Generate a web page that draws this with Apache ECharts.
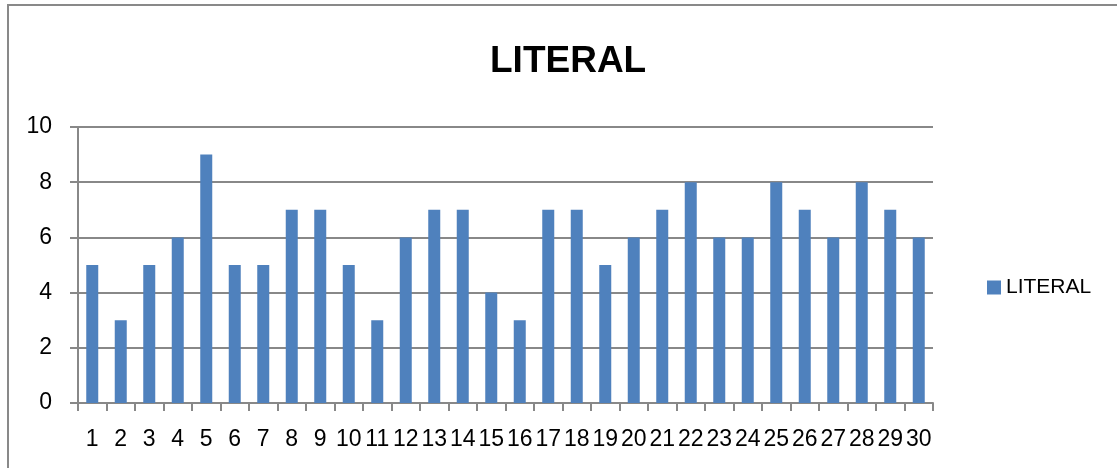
<!DOCTYPE html>
<html>
<head>
<meta charset="utf-8">
<script src="https://cdn.jsdelivr.net/npm/echarts@6/dist/echarts.min.js"></script>
<style>
html,body{margin:0;padding:0;background:#fff;overflow:hidden;}
#frame{position:absolute;left:7px;top:4px;width:1200px;height:600px;border:2px solid #898989;box-sizing:border-box;}
#chart{position:absolute;left:0;top:0;width:1117px;height:468px;}
</style>
</head>
<body>
<div id="frame"></div>
<div id="chart"></div>
<script>
const categories = ['1','2','3','4','5','6','7','8','9','10','11','12','13','14','15','16','17','18','19','20','21','22','23','24','25','26','27','28','29','30'];
const literalValues = [5,3,5,6,9,5,5,7,7,5,3,6,7,7,4,3,7,7,5,6,7,8,6,6,8,7,6,8,7,6];
const seriesName = 'LITERAL';
const yTicks = [0,2,4,6,8,10];

const chart = echarts.init(document.getElementById('chart'), null, {renderer:'canvas'});
const gridColor = '#888888';
chart.setOption({
  animation:false,
  backgroundColor:'transparent',
  title:{
    text:'LITERAL', left:485, top:38,
    textStyle:{fontFamily:'Liberation Sans', fontWeight:'bold', fontSize:37, color:'#000'}
  },
  legend:{
    show:true, left:982, top:272, itemWidth:14, itemHeight:14, itemGap:6,
    icon:'rect', data:[seriesName],
    textStyle:{fontFamily:'Liberation Sans', fontSize:21, color:'#000', padding:[0,0,0,0]}
  },
  grid:{left:78, right:184, top:127, bottom:65, containLabel:false},
  xAxis:{
    type:'category', data:categories, boundaryGap:true,
    axisLine:{show:true, lineStyle:{color:gridColor, width:2}},
    axisTick:{show:true, length:8, inside:false, alignWithLabel:false, lineStyle:{color:gridColor, width:2}},
    axisLabel:{interval:0, margin:25, fontFamily:'Liberation Sans', fontSize:23, color:'#000'},
    splitLine:{show:false}
  },
  yAxis:{
    type:'value', min:0, max:10, interval:2,
    axisLine:{show:true, lineStyle:{color:gridColor, width:2}},
    axisTick:{show:true, length:8, lineStyle:{color:gridColor, width:2}},
    axisLabel:{margin:26, fontFamily:'Liberation Sans', fontSize:23, color:'#000',
      formatter:function(v){return yTicks.indexOf(v)>=0 ? String(v) : '';}},
    splitLine:{show:true, lineStyle:{color:gridColor, width:2}}
  },
  series:[{
    name:seriesName, type:'bar', data:literalValues, barWidth:12,
    itemStyle:{color:'#4F81BD'}
  }]
});
</script>
</body>
</html>
